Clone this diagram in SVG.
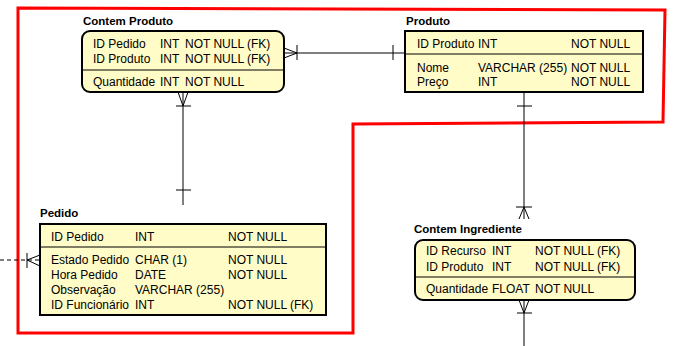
<svg xmlns="http://www.w3.org/2000/svg" width="677" height="346" viewBox="0 0 677 346">
  <style>
    .title { font-family: "Liberation Sans", Arial, sans-serif; font-size: 11.5px; font-weight: bold; fill: #000; }
    .row { font-family: "Liberation Sans", Arial, sans-serif; font-size: 12px; fill: #000; }
    .box { fill: #fffcc8; stroke: #000; stroke-width: 2; }
    .sep { stroke: #000; stroke-width: 1.2; }
    .link { stroke: #000; stroke-width: 1; fill: none; }
    .dash { stroke-dasharray: 4 3; }
    .outline { fill: none; stroke: #ff0000; stroke-width: 3; stroke-linejoin: miter; }
  </style>

  <!-- highlighted region -->
  <polygon class="outline" points="18,8 665,10 663,122 353,124 353,333 18,333"/>

  <g id="connectors">
    <!-- Contem Produto — Produto -->
    <line class="link" x1="284" y1="53" x2="405" y2="53"/>
    <polyline class="link" points="284,48 297,53 284,58"/>
    <line class="link" x1="297" y1="45" x2="297" y2="60"/>
    <line class="link" x1="393" y1="45" x2="393" y2="60"/>

    <!-- Contem Produto — Pedido -->
    <line class="link" x1="183" y1="92" x2="183" y2="205"/>
    <polyline class="link" points="178,92 183,106 188,92"/>
    <line class="link" x1="176" y1="106" x2="191" y2="106"/>
    <line class="link" x1="176" y1="190" x2="191" y2="190"/>

    <!-- Produto — Contem Ingrediente -->
    <line class="link" x1="524" y1="92" x2="524" y2="219"/>
    <line class="link" x1="517" y1="106" x2="532" y2="106"/>
    <polyline class="link" points="519,219 524,207 529,219"/>
    <line class="link" x1="516" y1="207" x2="532" y2="207"/>

    <!-- Contem Ingrediente — below -->
    <line class="link" x1="524" y1="300" x2="524" y2="346"/>
    <polyline class="link" points="519,300 524,313 529,300"/>
    <line class="link" x1="517" y1="313" x2="532" y2="313"/>

    <!-- Pedido — left -->
    <line class="link dash" x1="0" y1="260" x2="40" y2="260"/>
    <polyline class="link" points="40,255 27,260 40,266"/>
    <line class="link" x1="27" y1="253" x2="27" y2="268"/>
  </g>

  <g id="contem-produto">
    <text class="title" x="83" y="25">Contem Produto</text>
    <rect class="box" x="82" y="31" width="202" height="61" rx="8" ry="8"/>
    <line class="sep" x1="82" y1="70" x2="284" y2="70"/>
    <text class="row" x="93" y="48">ID Pedido</text>
    <text class="row" x="160" y="48">INT</text>
    <text class="row" x="185" y="48">NOT NULL (FK)</text>
    <text class="row" x="93" y="63">ID Produto</text>
    <text class="row" x="160" y="63">INT</text>
    <text class="row" x="185" y="63">NOT NULL (FK)</text>
    <text class="row" x="93" y="86">Quantidade</text>
    <text class="row" x="160" y="86">INT</text>
    <text class="row" x="185" y="86">NOT NULL</text>
  </g>

  <g id="produto">
    <text class="title" x="406" y="25">Produto</text>
    <rect class="box" x="405" y="31" width="238" height="61"/>
    <line class="sep" x1="405" y1="54" x2="643" y2="54"/>
    <text class="row" x="417" y="48">ID Produto</text>
    <text class="row" x="478" y="48">INT</text>
    <text class="row" x="571" y="48">NOT NULL</text>
    <text class="row" x="417" y="72">Nome</text>
    <text class="row" x="478" y="72">VARCHAR (255)</text>
    <text class="row" x="571" y="72">NOT NULL</text>
    <text class="row" x="417" y="86">Preço</text>
    <text class="row" x="478" y="86">INT</text>
    <text class="row" x="571" y="86">NOT NULL</text>
  </g>

  <g id="pedido">
    <text class="title" x="40" y="217">Pedido</text>
    <rect class="box" x="40" y="224" width="286" height="91"/>
    <line class="sep" x1="40" y1="247" x2="326" y2="247"/>
    <text class="row" x="51" y="241">ID Pedido</text>
    <text class="row" x="135" y="241">INT</text>
    <text class="row" x="228" y="241">NOT NULL</text>
    <text class="row" x="51" y="264">Estado Pedido</text>
    <text class="row" x="135" y="264">CHAR (1)</text>
    <text class="row" x="228" y="264">NOT NULL</text>
    <text class="row" x="51" y="279">Hora Pedido</text>
    <text class="row" x="135" y="279">DATE</text>
    <text class="row" x="228" y="279">NOT NULL</text>
    <text class="row" x="51" y="294">Observação</text>
    <text class="row" x="135" y="294">VARCHAR (255)</text>
    <text class="row" x="51" y="309">ID Funcionário</text>
    <text class="row" x="135" y="309">INT</text>
    <text class="row" x="228" y="309">NOT NULL (FK)</text>
  </g>

  <g id="contem-ingrediente">
    <text class="title" x="414" y="233">Contem Ingrediente</text>
    <rect class="box" x="415" y="240" width="220" height="60" rx="8" ry="8"/>
    <line class="sep" x1="415" y1="277" x2="635" y2="277"/>
    <text class="row" x="426" y="255">ID Recurso</text>
    <text class="row" x="492" y="255">INT</text>
    <text class="row" x="535" y="255">NOT NULL (FK)</text>
    <text class="row" x="426" y="271">ID Produto</text>
    <text class="row" x="492" y="271">INT</text>
    <text class="row" x="535" y="271">NOT NULL (FK)</text>
    <text class="row" x="426" y="293">Quantidade</text>
    <text class="row" x="492" y="293">FLOAT</text>
    <text class="row" x="535" y="293">NOT NULL</text>
  </g>
</svg>
